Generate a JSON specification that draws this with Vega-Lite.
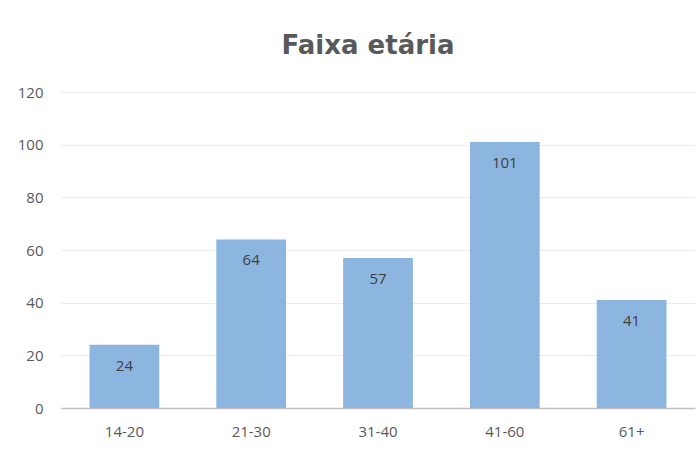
{
  "$schema": "https://vega.github.io/schema/vega-lite/v6.json",
  "autosize": "none",
  "width": 634,
  "height": 316,
  "padding": {"left": 61, "top": 92, "right": 2, "bottom": 56},
  "background": "white",
  "title": {
    "text": "Faixa etária",
    "font": "DejaVu Sans",
    "fontSize": 26,
    "fontWeight": "bold",
    "color": "#595959",
    "anchor": "middle",
    "dx": -10,
    "offset": 26
  },
  "data": {
    "values": [
      {"faixa": "14-20", "n": 24},
      {"faixa": "21-30", "n": 64},
      {"faixa": "31-40", "n": 57},
      {"faixa": "41-60", "n": 101},
      {"faixa": "61+", "n": 41}
    ]
  },
  "config": {
    "view": {"stroke": null},
    "axis": {
      "labelFont": "Open Sans",
      "labelFontSize": 15,
      "labelColor": "#595959",
      "titleColor": "#595959"
    }
  },
  "encoding": {
    "x": {
      "field": "faixa",
      "type": "nominal",
      "sort": null,
      "title": null,
      "scale": {"paddingInner": 0.45, "paddingOuter": 0.225},
      "axis": {
        "labelAngle": 0,
        "ticks": false,
        "labelPadding": 16,
        "domainColor": "#bfbfbf",
        "domainWidth": 1.5,
        "grid": false
      }
    },
    "y": {
      "field": "n",
      "type": "quantitative",
      "title": null,
      "scale": {"domain": [0, 120], "nice": false},
      "axis": {
        "values": [0, 20, 40, 60, 80, 100, 120],
        "ticks": false,
        "domain": false,
        "labelPadding": 18,
        "gridColor": "#ececec",
        "gridWidth": 1
      }
    }
  },
  "layer": [
    {"mark": {"type": "bar", "color": "#8cb5e0"}},
    {
      "mark": {
        "type": "text",
        "baseline": "middle",
        "dy": 21,
        "font": "Open Sans",
        "fontSize": 15,
        "color": "#404040"
      },
      "encoding": {"text": {"field": "n", "type": "quantitative"}}
    }
  ]
}
